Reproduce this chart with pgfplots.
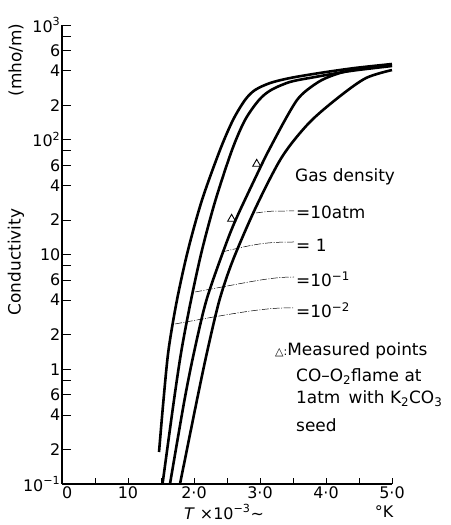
\documentclass[border=0pt]{standalone}
\usepackage{fontspec}
\setmainfont{DejaVu Sans}
\usepackage{pgfplots}
\pgfplotsset{compat=1.18}
\begin{document}
\begin{tikzpicture}
\path[use as bounding box] (0,0) rectangle (451bp,525bp);
\begin{axis}[
  at={(62bp,41bp)}, anchor=south west,
  scale only axis, width=330bp, height=459bp,
  xmin=0, xmax=50, ymin=0.1, ymax=1000, ymode=log,
  axis x line=bottom, axis y line=left,
  axis line style={line width=1.4bp, -},
  tick align=inside,
  xtick={0,10,20,30,40,50},
  xticklabels={\makebox[0pt][l]{0},10,2·0,3·0,4·0,5·0},
  minor xtick={5,15,25,35,45},
  ytick={0.1,0.2,0.4,0.6,1,2,4,6,10,20,40,60,100,200,400,600,1000},
  yticklabels={10\textsuperscript{−1},2,4,6,1,2,4,6,10,2,4,6,10\textsuperscript{2},2,4,6,10\textsuperscript{3}},
  minor ytick={0.8,8,80,800},
  major tick length=9bp, minor tick length=9bp,
  xtick style={/pgfplots/major tick length=6bp,/pgfplots/minor tick length=6bp},
  tick style={line width=0.8bp, black},
  ticklabel style={font=\fontsize{16}{16}\selectfont},
  yticklabel style={inner sep=1.5bp},
  xticklabel style={inner sep=2bp},
  clip=false,
]
% 10^-2 atm
\addplot[black, line width=2.6bp, smooth, tension=0.5] coordinates {
(14.70,0.190) (15.38,0.540) (16.14,1.47) (17.42,4.01) (19.09,10.9) (21.21,29.8) (23.94,81.4) (25.91,148.6) (27.73,222) (29.24,271) (31.52,312) (34.55,345) (39.09,382) (44.39,422) (50,457)};
% 10^-1 atm
\addplot[black, line width=2.6bp, smooth, tension=0.5] coordinates {
(15.23,0.1) (16.97,0.540) (18.11,1.47) (19.55,4.01) (21.21,10.9) (23.26,29.8) (25.76,81.4) (27.73,148.6) (29.85,222) (31.67,271) (34.55,319) (38.33,352) (43.64,397) (50,439)};
% 1 atm
\addplot[black, line width=2.6bp, smooth, tension=0.5] coordinates {
(16.36,0.1) (18.56,0.540) (20.08,1.47) (21.89,4.01) (24.5,10.9) (26.44,20.8) (30.30,61.5) (31.36,81.4) (33.79,148.6) (35.61,222) (37.12,271) (39.39,332) (42.12,382) (45.61,422) (50,445)};
% 10 atm
\addplot[black, line width=2.6bp, smooth, tension=0.5] coordinates {
(17.88,0.1) (20.45,0.540) (22.05,1.47) (23.86,4.01) (25.91,8.96) (29.39,25.9) (33.33,70.8) (37.42,140) (41.97,236) (46.06,345) (50,405)};
% measured points
\addplot[only marks, mark=triangle, mark size=4.6bp, mark options={line width=0.9bp, black, fill=white}] coordinates {(29.5,61.5) (25.7,20.4)};
\end{axis}
\begin{scope}[x=1bp, y=-1bp, shift={(0,525bp)}]
\tikzset{lead/.style={line width=0.5bp, dash pattern=on 7bp off 1.5bp on 1bp off 1.5bp}}
\draw[lead] (256,213) .. controls (270,211) .. (294,211);
\draw[lead] (222,252) .. controls (255,244) and (265,242) .. (294,242);
\draw[lead] (195,292) .. controls (250,282) and (270,277) .. (294,277);
\draw[lead] (175,324) .. controls (240,312) and (270,307) .. (294,308);
\tikzset{lab/.style={anchor=west, inner sep=0pt, font=\fontsize{17}{17}\selectfont}}
\node[lab] at (295,177) {Gas density};
\node[lab] at (296,212) {=10atm};
\node[lab] at (296,245) {= 1};
\node[lab] at (296,279) {=10\textsuperscript{−1}};
\node[lab] at (296,310) {=10\textsuperscript{−2}};
\node[lab] at (275,351) {{\fontsize{11}{11}\selectfont △:}Measured points};
\node[lab] at (296,377) {CO–O\textsubscript{2}flame at};
\node[lab] at (296,399) {1atm\, with K\textsubscript{2}CO\textsubscript{3}};
\node[lab] at (296,425) {seed};
\node[rotate=90, inner sep=0pt, font=\fontsize{17}{17}\selectfont] at (16,262) {Conductivity};
\node[rotate=90, inner sep=0pt, font=\fontsize{17}{17}\selectfont] at (16,60) {(mho/m)};
\node[inner sep=0pt, font=\fontsize{16}{16}\selectfont] at (224,512) {\textit{T} ×10\textsuperscript{−3}∼};
\node[inner sep=0pt, font=\fontsize{16}{16}\selectfont] at (384,512) {°K};
\end{scope}
\end{tikzpicture}
\end{document}
